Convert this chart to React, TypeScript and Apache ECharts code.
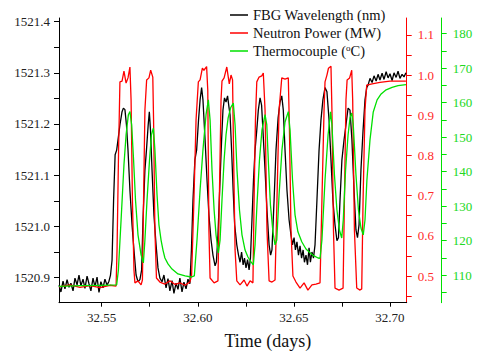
import React, { useEffect, useRef } from "react";
import * as echarts from "echarts";

// ---------- data ----------
const fbgTime = [
  32.5278, 32.5288, 32.5299, 32.5309, 32.532, 32.533, 32.534, 32.5351, 32.5361, 32.5372,
  32.5382, 32.5392, 32.5403, 32.5413, 32.5424, 32.5434, 32.5444, 32.5455, 32.5465, 32.5476,
  32.5486, 32.5496, 32.5507, 32.5517, 32.5528, 32.5538, 32.5546, 32.5554, 32.5562, 32.557,
  32.5578, 32.5585, 32.5595, 32.5606, 32.5613, 32.5621, 32.5629, 32.5637, 32.5647, 32.5658,
  32.5668, 32.5679, 32.5689, 32.5699, 32.5708, 32.5715, 32.5725, 32.5733, 32.5742, 32.5748,
  32.5754, 32.5762, 32.5772, 32.5783, 32.5793, 32.5803, 32.5814, 32.5824, 32.5835, 32.5845,
  32.5855, 32.5866, 32.5876, 32.5887, 32.5897, 32.5907, 32.5918, 32.5928, 32.5939, 32.5949,
  32.5959, 32.5967, 32.5975, 32.5985, 32.5994, 32.6004, 32.6012, 32.602, 32.6027, 32.6038,
  32.6048, 32.6058, 32.6069, 32.6079, 32.609, 32.6097, 32.6105, 32.6116, 32.6124, 32.6131,
  32.6139, 32.6147, 32.6155, 32.6163, 32.6168, 32.6176, 32.6184, 32.6192, 32.6203, 32.6212,
  32.622, 32.6228, 32.6236, 32.6243, 32.6251, 32.6259, 32.6267, 32.6274, 32.6282, 32.629,
  32.6298, 32.6307, 32.6315, 32.6324, 32.6332, 32.6339, 32.635, 32.636, 32.6371, 32.6379,
  32.6386, 32.6397, 32.6407, 32.6418, 32.6428, 32.6437, 32.6445, 32.6454, 32.6464, 32.6475,
  32.6485, 32.6493, 32.6501, 32.6508, 32.6516, 32.6524, 32.6532, 32.654, 32.6548, 32.6555,
  32.6563, 32.6571, 32.6579, 32.6586, 32.6594, 32.6602, 32.661, 32.662, 32.6631, 32.6641,
  32.6651, 32.6662, 32.6672, 32.6683, 32.6693, 32.6703, 32.6714, 32.6724, 32.6732, 32.674,
  32.675, 32.6761, 32.6771, 32.6782, 32.6792, 32.6802, 32.6813, 32.6823, 32.6831, 32.6839,
  32.6849, 32.686, 32.687, 32.6879, 32.6886, 32.6896, 32.6907, 32.6917, 32.6928, 32.6938,
  32.6948, 32.6959, 32.6969, 32.698, 32.699, 32.7, 32.7011, 32.7021, 32.7032, 32.7042,
  32.7052, 32.7063, 32.7073, 32.7083,
];
const fbgValue = [
  1520.885, 1520.872, 1520.893, 1520.878, 1520.896, 1520.881, 1520.889, 1520.874, 1520.899, 1520.886,
  1520.905, 1520.884, 1520.897, 1520.879, 1520.903, 1520.888, 1520.874, 1520.899, 1520.882, 1520.901,
  1520.871, 1520.892, 1520.88, 1520.897, 1520.885, 1520.893, 1520.905, 1520.934, 1521.051, 1521.14,
  1521.149, 1521.169, 1521.198, 1521.224, 1521.231, 1521.228, 1521.198, 1521.149, 1521.071, 1521.003,
  1520.954, 1520.905, 1520.892, 1520.896, 1520.915, 1521.013, 1521.11, 1521.149, 1521.198, 1521.224,
  1521.188, 1521.11, 1521.022, 1520.964, 1520.919, 1520.899, 1520.892, 1520.905, 1520.88, 1520.898,
  1520.874, 1520.894, 1520.869, 1520.889, 1520.877, 1520.899, 1520.872, 1520.891, 1520.878, 1520.897,
  1520.888, 1520.954, 1521.051, 1521.13, 1521.149, 1521.208, 1521.247, 1521.271, 1521.247, 1521.169,
  1521.091, 1521.022, 1520.974, 1520.944, 1520.923, 1520.931, 1520.983, 1521.091, 1521.169, 1521.227,
  1521.251, 1521.243, 1521.255, 1521.231, 1521.218, 1521.149, 1521.071, 1521.003, 1520.964, 1520.944,
  1520.93, 1520.95, 1520.925, 1520.938, 1520.919, 1520.935, 1520.915, 1520.938, 1521.013, 1521.091,
  1521.149, 1521.188, 1521.227, 1521.251, 1521.237, 1521.188, 1521.11, 1521.032, 1520.964, 1520.944,
  1520.954, 1521.051, 1521.149, 1521.212, 1521.243, 1521.255, 1521.227, 1521.149, 1521.071, 1521.013,
  1520.983, 1520.964, 1520.978, 1520.954, 1520.97, 1520.944, 1520.962, 1520.938, 1520.954, 1520.93,
  1520.944, 1520.925, 1520.958, 1520.93, 1520.95, 1520.938, 1520.964, 1521.051, 1521.149, 1521.208,
  1521.247, 1521.271, 1521.263, 1521.208, 1521.13, 1521.051, 1521.003, 1520.972, 1520.978, 1521.051,
  1521.13, 1521.169, 1521.198, 1521.231, 1521.227, 1521.169, 1521.071, 1520.993, 1520.978, 1521.003,
  1521.11, 1521.188, 1521.247, 1521.271, 1521.276, 1521.289, 1521.281, 1521.294, 1521.284, 1521.297,
  1521.286, 1521.299, 1521.287, 1521.302, 1521.29, 1521.298, 1521.285, 1521.3, 1521.291, 1521.303,
  1521.289, 1521.297, 1521.292, 1521.3,
];

const powerTime = [
  32.5278, 32.5335, 32.5387, 32.5439, 32.5491, 32.5543, 32.5575, 32.558, 32.5588, 32.5595,
  32.5606, 32.5616, 32.5627, 32.5637, 32.5647, 32.5653, 32.566, 32.5668, 32.5673, 32.5689,
  32.5705, 32.5712, 32.5718, 32.5725, 32.5734, 32.5746, 32.5755, 32.5766, 32.577, 32.5777,
  32.5785, 32.5803, 32.5829, 32.5855, 32.5882, 32.5907, 32.5934, 32.5959, 32.5968, 32.598,
  32.5991, 32.6003, 32.6012, 32.6024, 32.6032, 32.6046, 32.6052, 32.6058, 32.6064, 32.6085,
  32.6105, 32.6113, 32.6121, 32.6126, 32.6137, 32.6151, 32.6164, 32.6173, 32.6181, 32.6186,
  32.6194, 32.6203, 32.622, 32.6241, 32.6256, 32.6272, 32.6287, 32.6293, 32.63, 32.6307,
  32.6319, 32.6333, 32.6341, 32.635, 32.636, 32.6371, 32.6386, 32.6402, 32.6412, 32.6423,
  32.6437, 32.6454, 32.6471, 32.6477, 32.6485, 32.6495, 32.6511, 32.6532, 32.6553, 32.6573,
  32.6594, 32.6615, 32.6636, 32.6646, 32.6657, 32.6662, 32.6672, 32.668, 32.6693, 32.6698,
  32.6706, 32.6714, 32.6735, 32.6756, 32.6763, 32.6771, 32.6777, 32.679, 32.6801, 32.6806,
  32.6815, 32.6827, 32.6844, 32.6853, 32.686, 32.687, 32.6879, 32.6907, 32.6948, 32.7,
  32.7052, 32.7083,
];
const powerValue = [
  0.473, 0.478, 0.472, 0.476, 0.471, 0.477, 0.475, 0.565, 0.813, 0.983,
  0.985, 1.01, 0.98, 0.993, 1.02, 0.938, 0.689, 0.515, 0.483, 0.488,
  0.478, 0.49, 0.689, 0.913, 0.988, 0.993, 1.012, 0.995, 0.888, 0.614,
  0.495, 0.485, 0.48, 0.488, 0.479, 0.483, 0.477, 0.485, 0.502, 0.689,
  0.888, 0.983, 0.988, 1.017, 1.012, 1.021, 0.963, 0.614, 0.495, 0.483,
  0.488, 0.714, 0.938, 0.985, 0.993, 1.02, 0.978, 1.0, 0.988, 0.813,
  0.565, 0.488, 0.478, 0.49, 0.475, 0.488, 0.483, 0.689, 0.888, 0.983,
  0.995, 0.998, 1.005, 0.913, 0.614, 0.488, 0.485, 0.49, 0.689, 0.913,
  0.993, 0.99, 0.993, 0.863, 0.614, 0.5, 0.485, 0.47, 0.483, 0.465,
  0.478, 0.48, 0.483, 0.689, 0.913, 0.983, 1.0, 1.017, 1.022, 0.913,
  0.614, 0.47, 0.465, 0.47, 0.689, 0.938, 0.988, 0.993, 1.012, 0.938,
  0.614, 0.47, 0.465, 0.468, 0.689, 0.913, 0.975, 0.978, 0.982, 0.985,
  0.985, 0.985,
];

const tempTime = [
  32.5278, 32.5387, 32.5491, 32.5578, 32.5587, 32.5601, 32.5616, 32.5627, 32.5639, 32.5647,
  32.5656, 32.5666, 32.5676, 32.5689, 32.5705, 32.5717, 32.5725, 32.5736, 32.5749, 32.5759,
  32.5769, 32.5777, 32.5788, 32.5798, 32.5809, 32.5819, 32.5829, 32.5845, 32.5866, 32.5897,
  32.5934, 32.5965, 32.5982, 32.5996, 32.6012, 32.6027, 32.6043, 32.6055, 32.6064, 32.6074,
  32.6085, 32.6095, 32.6107, 32.6116, 32.6126, 32.6137, 32.6147, 32.6158, 32.6171, 32.6185,
  32.6194, 32.6204, 32.6217, 32.623, 32.6246, 32.6261, 32.6277, 32.6289, 32.6298, 32.6308,
  32.6321, 32.6334, 32.635, 32.6359, 32.6368, 32.6378, 32.6391, 32.6402, 32.6411, 32.6423,
  32.6438, 32.6454, 32.6471, 32.648, 32.6493, 32.6506, 32.6521, 32.6541, 32.6563, 32.6584,
  32.6605, 32.6626, 32.6636, 32.6646, 32.6662, 32.6678, 32.6691, 32.6698, 32.6711, 32.6724,
  32.6737, 32.6749, 32.6757, 32.6769, 32.6782, 32.6792, 32.6801, 32.6809, 32.6823, 32.6836,
  32.6849, 32.6861, 32.687, 32.688, 32.6896, 32.6913, 32.6933, 32.6954, 32.698, 32.7011,
  32.7042, 32.7083,
];
const tempValue = [
  106.8, 107.0, 107.1, 107.2, 111.5, 126.0, 142.0, 150.7, 156.5, 157.4,
  153.6, 143.4, 131.8, 121.7, 115.9, 113.6, 120.2, 131.8, 143.4, 150.7,
  152.6, 146.3, 133.3, 124.6, 120.2, 117.3, 115.0, 113.3, 111.8, 110.4,
  109.8, 109.5, 109.8, 120.2, 134.7, 146.3, 156.5, 160.8, 155.0, 140.5,
  128.9, 121.7, 116.5, 120.2, 131.8, 143.4, 150.7, 155.6, 158.5, 159.9,
  153.6, 140.5, 128.9, 121.7, 117.3, 115.3, 113.9, 113.0, 118.8, 130.4,
  143.4, 152.1, 156.5, 153.6, 142.0, 130.4, 122.6, 118.8, 120.2, 133.3,
  146.3, 154.4, 157.4, 152.1, 137.6, 127.5, 122.6, 119.7, 117.6, 116.5,
  115.6, 115.0, 114.9, 120.2, 137.6, 150.7, 157.3, 153.6, 139.1, 128.9,
  123.1, 120.8, 126.0, 140.5, 150.7, 155.6, 157.0, 153.6, 139.1, 128.9,
  123.7, 121.7, 126.0, 137.6, 149.2, 157.3, 160.8, 162.5, 163.7, 164.4,
  164.9, 165.2,
];

const seriesNames = ["FBG Wavelength (nm)", "Neutron Power (MW)", "Thermocouple (oC)"];
const xTicks = [32.55, 32.6, 32.65, 32.7];
const xMinorTicks = [32.575, 32.625, 32.675];
const fbgTicks = [1520.9, 1521.0, 1521.1, 1521.2, 1521.3, 1521.4];
const fbgMinorTicks = [1520.95, 1521.05, 1521.15, 1521.25, 1521.35];
const powerTicks = [0.5, 0.6, 0.7, 0.8, 0.9, 1.0, 1.1];
const powerMinorTicks = [0.45, 0.55, 0.65, 0.75, 0.85, 0.95, 1.05];
const tempTicks = [110, 120, 130, 140, 150, 160, 170, 180];
const tempMinorTicks = [105, 115, 125, 135, 145, 155, 165, 175];
const xLabel = "Time (days)";

const FONT = "Liberation Serif";
const RED = "#ff0000";
const GREEN = "#00e000";
const LINE_COLORS = ["#000000", RED, GREEN];

function zip(a: number[], b: number[]) {
  return a.map((t, i) => [t, b[i]]);
}

function allTicks(a: number[], b: number[]) {
  return [...a, ...b].sort((p, q) => p - q);
}

function yAxisDef(opts: any) {
  const { min, max, ticks, minor, color, labelColor, position, offset, margin, fmt } = opts;
  return {
    type: "value",
    position,
    offset,
    min,
    max,
    splitLine: { show: false },
    axisLine: { show: true, onZero: false, lineStyle: { color, width: 1 } },
    axisTick: { show: true, inside: false, length: 5, customValues: allTicks(ticks, minor), lineStyle: { color, width: 1 } },
    axisLabel: {
      customValues: ticks,
      margin,
      formatter: fmt,
      color: labelColor,
      fontFamily: FONT,
      fontSize: 13,
    },
  };
}

function legendGraphic() {
  const rows = [15, 33, 51];
  const texts = [
    "{n|" + seriesNames[0] + "}",
    "{n|" + seriesNames[1] + "}",
    "{n|Thermocouple (}{s|o}{n|C)}",
  ];
  const rich = {
    n: { fontFamily: FONT, fontSize: 14.5, fill: "#111", color: "#111", lineHeight: 16 },
    s: { fontFamily: FONT, fontSize: 9, fill: "#111", color: "#111", verticalAlign: "top", lineHeight: 10 },
  };
  const items: any[] = [];
  rows.forEach((y, i) => {
    items.push({
      type: "line",
      shape: { x1: 230, y1: y, x2: 248, y2: y },
      style: { stroke: LINE_COLORS[i], lineWidth: 1.5 },
      z: 10,
    });
    items.push({
      type: "text",
      x: 253,
      y,
      z: 10,
      style: {
        text: texts[i],
        rich,
        fill: "#111",
        fontFamily: FONT,
        fontSize: 14.5,
        textAlign: "left",
        textVerticalAlign: "middle",
      },
    });
  });
  return items;
}

export default function App() {
  const ref = useRef<HTMLDivElement>(null);
  useEffect(() => {
    if (!ref.current) return;
    const chart = echarts.init(ref.current, null, { renderer: "svg" });
    chart.setOption({
      animation: false,
      textStyle: { fontFamily: FONT },
      grid: { left: 59, right: 78.3, top: 18, bottom: 57.3 },
      graphic: legendGraphic(),
      xAxis: {
        type: "value",
        min: 32.5278,
        max: 32.7087,
        name: xLabel,
        nameLocation: "middle",
        nameGap: 29,
        nameTextStyle: { fontFamily: FONT, fontSize: 18, color: "#111", padding: [0, 0, 0, 70] },
        splitLine: { show: false },
        axisLine: { show: true, onZero: false, lineStyle: { color: "#000", width: 1 } },
        axisTick: { show: true, inside: false, length: 4, customValues: allTicks(xTicks, xMinorTicks), lineStyle: { color: "#000" } },
        axisLabel: {
          customValues: xTicks,
          margin: 8,
          formatter: (v: number) => v.toFixed(2),
          color: "#222",
          fontFamily: FONT,
          fontSize: 13,
        },
      },
      yAxis: [
        yAxisDef({ min: 1520.851, max: 1521.407, ticks: fbgTicks, minor: fbgMinorTicks, color: "#000", labelColor: "#222", position: "left", offset: 0, margin: 9, fmt: (v: number) => v.toFixed(1) }),
        yAxisDef({ min: 0.4336, max: 1.142, ticks: powerTicks, minor: powerMinorTicks, color: RED, labelColor: "#ff2a2a", position: "right", offset: 0, margin: 11, fmt: (v: number) => v.toFixed(1) }),
        yAxisDef({ min: 102.06, max: 184.5, ticks: tempTicks, minor: tempMinorTicks, color: GREEN, labelColor: "#22d822", position: "right", offset: 35, margin: 11, fmt: (v: number) => String(v) }),
      ],
      series: [
        {
          name: seriesNames[0],
          type: "line",
          yAxisIndex: 0,
          symbol: "none",
          lineStyle: { color: LINE_COLORS[0], width: 1.3 },
          itemStyle: { color: LINE_COLORS[0] },
          data: zip(fbgTime, fbgValue),
          z: 2,
        },
        {
          name: seriesNames[1],
          type: "line",
          yAxisIndex: 1,
          symbol: "none",
          lineStyle: { color: LINE_COLORS[1], width: 1.3 },
          itemStyle: { color: LINE_COLORS[1] },
          data: zip(powerTime, powerValue),
          z: 3,
        },
        {
          name: seriesNames[2],
          type: "line",
          yAxisIndex: 2,
          symbol: "none",
          lineStyle: { color: LINE_COLORS[2], width: 1.3 },
          itemStyle: { color: LINE_COLORS[2] },
          data: zip(tempTime, tempValue),
          z: 4,
        },
      ],
    });
    return () => chart.dispose();
  }, []);
  return (
    <div
      ref={ref}
      style={{ position: "fixed", left: 0, top: 0, width: 485, height: 360, background: "#fff" }}
    />
  );
}
